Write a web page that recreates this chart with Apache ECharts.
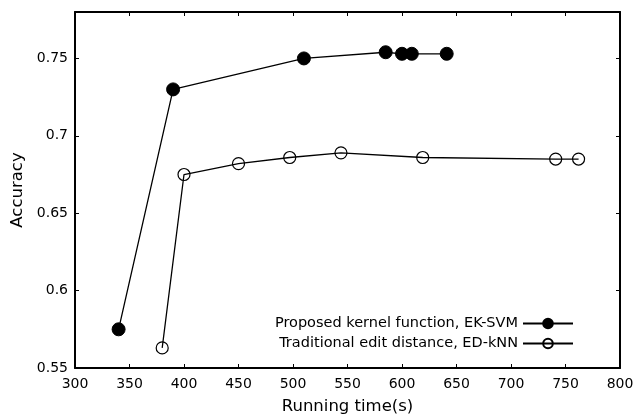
<!DOCTYPE html>
<html>
<head>
<meta charset="utf-8">
<script src="https://cdn.jsdelivr.net/npm/echarts@6/dist/echarts.min.js"></script>
<style>
  html, body { margin: 0; padding: 0; background: #fff; }
  #main { width: 633px; height: 418px; }
</style>
</head>
<body>
<div id="main"></div>
<script>
// running time (s) and accuracy
var svmTime = [340, 390, 510, 585, 600, 609, 641];
var svmAcc = [0.575, 0.730, 0.750, 0.754, 0.753, 0.753, 0.753];
var knnTime = [380, 400, 450, 497, 544, 619, 741, 762];
var knnAcc = [0.563, 0.675, 0.682, 0.686, 0.689, 0.686, 0.685, 0.685];
var svmName = 'Proposed kernel function, EK-SVM';
var knnName = 'Traditional edit distance, ED-kNN';

function pairs(xs, ys) {
    var out = [];
    for (var i = 0; i < xs.length; i++) {
        out.push([xs[i], ys[i]]);
    }
    return out;
}

var font = 'DejaVu Sans, Verdana, sans-serif';
var myChart = echarts.init(document.getElementById('main'));

var xBase = {
    type: 'value', min: 300, max: 800, interval: 50,
    axisLine: { lineStyle: { color: '#000', width: 2 } },
    axisTick: { inside: true, length: 4, lineStyle: { color: '#000' } },
    splitLine: { show: false }
};
var yBase = {
    type: 'value', min: 0.55, max: 0.78, interval: 0.05,
    axisLine: { lineStyle: { color: '#000', width: 2 } },
    axisTick: { inside: true, length: 4, lineStyle: { color: '#000' } },
    splitLine: { show: false }
};

var options = {
    animation: false,
    backgroundColor: '#fff',
    grid: { left: 75, top: 12, right: 13, bottom: 50, outerBoundsMode: 'none' },
    legend: {
        orient: 'vertical',
        right: 54,
        top: 311,
        align: 'right',
        itemWidth: 50,
        itemHeight: 12,
        itemGap: 5,
        textStyle: { fontFamily: font, fontSize: 14.5, color: '#000' },
        data: [svmName, knnName]
    },
    xAxis: [
        Object.assign({}, xBase, {
            position: 'bottom',
            name: 'Running time(s)',
            nameLocation: 'middle',
            nameGap: 30,
            nameTextStyle: { fontFamily: font, fontSize: 16.5, color: '#000' },
            axisLabel: { margin: 9, fontFamily: font, fontSize: 14, color: '#000' }
        }),
        Object.assign({}, xBase, { position: 'top', axisLabel: { show: false } })
    ],
    yAxis: [
        Object.assign({}, yBase, {
            position: 'left',
            name: 'Accuracy',
            nameLocation: 'middle',
            nameGap: 49,
            nameTextStyle: { fontFamily: font, fontSize: 16.5, color: '#000' },
            axisLabel: {
                margin: 7, fontFamily: font, fontSize: 14, color: '#000',
                showMaxLabel: false
            }
        }),
        Object.assign({}, yBase, { position: 'right', axisLabel: { show: false } })
    ],
    series: [
        {
            name: svmName,
            type: 'line',
            data: pairs(svmTime, svmAcc),
            symbol: 'circle',
            symbolSize: 13,
            lineStyle: { color: '#000', width: 1.3 },
            itemStyle: { color: '#000', borderColor: '#000', borderWidth: 1 }
        },
        {
            name: knnName,
            type: 'line',
            data: pairs(knnTime, knnAcc),
            symbol: 'circle',
            symbolSize: 12,
            lineStyle: { color: '#000', width: 1.3 },
            itemStyle: { color: 'rgba(0,0,0,0)', borderColor: '#000', borderWidth: 1.2 }
        }
    ]
};

myChart.setOption(options, true);
</script>
</body>
</html>
